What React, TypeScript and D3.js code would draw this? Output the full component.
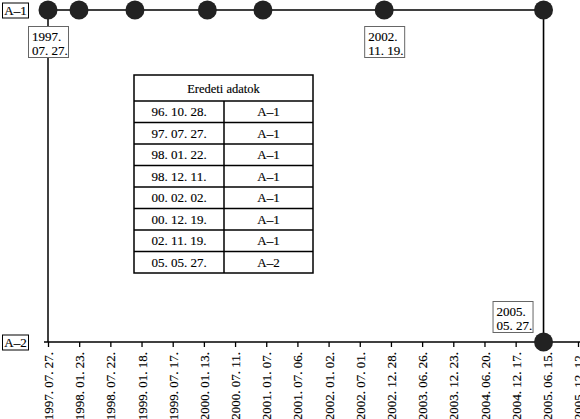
import React, { useEffect, useRef } from "react";
import * as d3 from "d3";

// ---- data ----
const EVENT_DATES = ["96. 10. 28.", "97. 07. 27.", "98. 01. 22.", "98. 12. 11.", "00. 02. 02.", "00. 12. 19.", "02. 11. 19.", "05. 05. 27."];
const EVENT_LEVELS = ["A–1", "A–1", "A–1", "A–1", "A–1", "A–1", "A–1", "A–2"];
const LEVELS = ["A–1", "A–2"];
const TICK_LABELS = [
  "1997. 07. 27.", "1998. 01. 23.", "1998. 07. 22.", "1999. 01. 18.", "1999. 07. 17.", "2000. 01. 13.",
  "2000. 07. 11.", "2001. 01. 07.", "2001. 07. 06.", "2002. 01. 02.", "2002. 07. 01.", "2002. 12. 28.",
  "2003. 06. 26.", "2003. 12. 23.", "2004. 06. 20.", "2004. 12. 17.", "2005. 06. 15.", "2005. 12. 12.",
];
const ANNOTATED_DATES = ["97. 07. 27.", "02. 11. 19.", "05. 05. 27."];
const TABLE_TITLE = "Eredeti adatok";

const W = 580;
const H = 419;
const FONT = "'Liberation Serif', 'Times New Roman', 'DejaVu Serif', serif";

export default function App() {
  const ref = useRef<SVGSVGElement>(null);

  useEffect(() => {
    const svg = d3.select(ref.current);
    svg.selectAll("*").remove();

    const parseShort = d3.timeParse("%y. %m. %d.");
    const parseLong = d3.timeParse("%Y. %m. %d.");
    const tickDates = TICK_LABELS.map((t) => parseLong(t) as Date);
    const events = EVENT_DATES.map((d, i) => ({ date: parseShort(d) as Date, level: EVENT_LEVELS[i] }));

    const x = d3.scaleTime().domain([tickDates[0], tickDates[tickDates.length - 1]]).range([48, 578]).clamp(true);
    const y = d3.scalePoint<string>().domain(LEVELS).range([10, 342]);
    const x0 = x.range()[0];
    const yBottom = y(LEVELS[LEVELS.length - 1]) as number;
    const yTop = y(LEVELS[0]) as number;

    const txt = (sel: any) => sel.style("font-family", FONT).attr("fill", "#000").attr("stroke", "#000").attr("stroke-width", 0.15);

    // axes
    const axis = d3
      .axisBottom(x)
      .tickValues(tickDates)
      .tickSize(5)
      .tickSizeOuter(0)
      .tickFormat((d) => d3.timeFormat("%Y. %m. %d.")(d as Date));
    const ag = svg.append("g").attr("transform", `translate(0,${yBottom})`).call(axis);
    ag.attr("font-family", null).attr("font-size", null);
    ag.select(".domain").remove();
    ag.selectAll(".tick line").attr("stroke", "#000").attr("stroke-width", 1.3);
    ag.selectAll("text")
      .attr("transform", "rotate(-90)")
      .attr("x", -10)
      .attr("y", 0)
      .attr("dy", "0.35em")
      .attr("text-anchor", "end")
      .style("font-size", "13px")
      .call(txt);

    // axis lines
    svg.append("line").attr("x1", x0 - 4).attr("x2", W).attr("y1", yBottom).attr("y2", yBottom).attr("stroke", "#000").attr("stroke-width", 1.5);
    svg.append("line").attr("x1", x0).attr("x2", x0).attr("y1", yTop).attr("y2", yBottom).attr("stroke", "#000").attr("stroke-width", 1.5);
    svg.append("line").attr("x1", x0 - 4).attr("x2", x0).attr("y1", yTop).attr("y2", yTop).attr("stroke", "#000").attr("stroke-width", 1.5);

    // level labels
    LEVELS.forEach((lv) => {
      const cy = y(lv) as number;
      const g = svg.append("g");
      g.append("rect").attr("x", 2.5).attr("y", cy - 7).attr("width", 26).attr("height", 15).attr("fill", "#fff").attr("stroke", "#000").attr("stroke-width", 1);
      g.append("text").attr("x", 15.5).attr("y", cy + 5).attr("text-anchor", "middle").style("font-size", "13px").call(txt).text(lv);
    });

    // step line
    const line = d3
      .line<{ date: Date; level: string }>()
      .x((d) => x(d.date))
      .y((d) => y(d.level) as number)
      .curve(d3.curveStepAfter);
    svg.append("path").attr("d", line(events)).attr("fill", "none").attr("stroke", "#000").attr("stroke-width", 1.6);

    // dots: events inside domain + corners where level changes
    const [dMin, dMax] = x.domain();
    const dots: { date: Date; level: string }[] = [];
    events.forEach((e, i) => {
      if (e.date < dMin || e.date > dMax) return;
      if (i > 0 && events[i - 1].level !== e.level) dots.push({ date: e.date, level: events[i - 1].level });
      dots.push(e);
    });
    svg.selectAll("circle.dot").data(dots).join("circle").attr("class", "dot")
      .attr("cx", (d) => x(d.date)).attr("cy", (d) => y(d.level) as number).attr("r", 9.5).attr("fill", "#222");

    // annotations
    const annotated = ANNOTATED_DATES.map((s) => events.find((e) => +e.date === +(parseShort(s) as Date))!);
    const fy = d3.timeFormat("%Y.");
    const fmd = d3.timeFormat("%m. %d.");
    annotated.forEach((e) => {
      const cx = x(e.date);
      const cy = y(e.level) as number;
      const bw = 40;
      const bh = 31;
      let bx: number, by: number;
      if (e.level === LEVELS[0]) {
        bx = cx - bw / 2;
        by = cy + 16;
      } else {
        bx = cx - 11 - bw;
        by = cy - 10 - bh;
      }
      const g = svg.append("g");
      g.append("rect").attr("x", bx + 0.5).attr("y", by + 0.5).attr("width", bw).attr("height", bh).attr("fill", "#fff").attr("stroke", "#666").attr("stroke-width", 1);
      g.append("text").attr("x", bx + 4).attr("y", by + 14.5).style("font-size", "13px").call(txt).text(fy(e.date));
      g.append("text").attr("x", bx + 4).attr("y", by + 28.5).style("font-size", "13px").call(txt).text(fmd(e.date));
    });

    // table
    const tx = 134, ty = 75, tw = 179, hh = 26, rh = 21.5, colX = 224;
    const tg = svg.append("g");
    tg.append("rect").attr("x", tx).attr("y", ty).attr("width", tw).attr("height", hh + rh * events.length).attr("fill", "#fff").attr("stroke", "#000").attr("stroke-width", 1.5);
    tg.append("text").attr("x", tx + tw / 2).attr("y", ty + hh / 2 + 4.5).attr("text-anchor", "middle").style("font-size", "12.5px").call(txt).text(TABLE_TITLE);
    events.forEach((e, i) => {
      const ry = ty + hh + rh * i;
      tg.append("line").attr("x1", tx).attr("x2", tx + tw).attr("y1", ry).attr("y2", ry).attr("stroke", "#000").attr("stroke-width", 1.5);
      tg.append("text").attr("x", (tx + colX) / 2).attr("y", ry + rh / 2 + 4.5).attr("text-anchor", "middle").style("font-size", "13px").call(txt).text(EVENT_DATES[i]);
      tg.append("text").attr("x", (colX + tx + tw) / 2).attr("y", ry + rh / 2 + 4.5).attr("text-anchor", "middle").style("font-size", "13px").call(txt).text(e.level);
    });
    tg.append("line").attr("x1", colX).attr("x2", colX).attr("y1", ty + hh).attr("y2", ty + hh + rh * events.length).attr("stroke", "#000").attr("stroke-width", 1.5);
  }, []);

  return (
    <svg ref={ref} width={W} height={H} style={{ position: "absolute", left: 0, top: 0, background: "#fff" }} />
  );
}
